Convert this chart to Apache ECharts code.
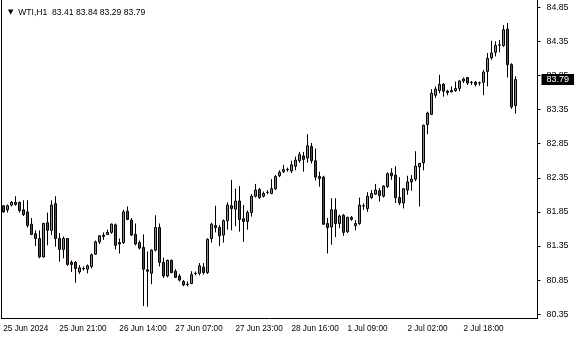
<!DOCTYPE html>
<html><head><meta charset="utf-8">
<script src="https://cdn.jsdelivr.net/npm/echarts@6/dist/echarts.min.js"></script>
<style>html,body{margin:0;padding:0;background:#fff}#c{width:580px;height:340px}</style>
</head><body><div id="c"></div>
<script>
const symbolName = 'WTI';
const timeframe = 'H1';
const opens = [81.94,81.88,81.95,81.99,81.99,81.88,81.85,81.67,81.53,81.46,81.19,81.69,81.58,81.97,81.46,81.30,81.46,81.11,81.11,80.97,81.015,81.01,81.05,81.23,81.41,81.49,81.52,81.55,81.66,81.40,81.40,81.86,81.73,81.52,81.40,81.33,81.00,80.95,81.29,81.62,81.11,80.91,81.14,80.98,80.91,80.83,80.785,80.80,80.945,80.95,81.04,80.96,81.46,81.65,81.62,81.51,81.72,81.94,81.89,82.01,81.75,81.71,81.84,82.08,82.18,82.08,82.135,82.12,82.19,82.38,82.44,82.47,82.45,82.52,82.60,82.67,82.64,82.81,82.60,82.37,82.36,81.68,81.63,81.88,81.68,81.80,81.56,81.77,81.65,81.68,81.935,81.90,82.06,82.11,82.16,82.08,82.22,82.42,82.39,82.06,81.98,82.17,82.29,82.33,82.51,82.57,83.13,83.28,83.56,83.63,83.72,83.62,83.61,83.63,83.66,83.77,83.82,83.745,83.75,83.74,83.75,83.91,84.11,84.19,84.295,84.29,84.53,84.01,83.41];
const closes = [81.85,81.94,81.99,81.96,81.87,81.81,81.65,81.52,81.46,81.19,81.68,81.58,81.95,81.46,81.30,81.46,81.08,81.08,81.02,81.03,81.02,81.06,81.22,81.41,81.50,81.51,81.55,81.67,81.36,81.38,81.85,81.74,81.51,81.38,81.32,81.01,80.98,81.29,81.62,81.11,80.91,81.14,80.96,80.89,80.85,80.78,80.79,80.93,80.95,81.06,80.96,81.45,81.67,81.62,81.50,81.72,81.95,81.90,82.01,81.74,81.71,81.84,82.08,82.17,82.06,82.12,82.14,82.19,82.37,82.43,82.47,82.475,82.54,82.61,82.69,82.62,82.82,82.60,82.36,82.34,81.67,81.62,81.88,81.68,81.79,81.55,81.77,81.74,81.68,81.95,81.94,82.08,82.12,82.17,82.09,82.23,82.41,82.38,82.06,81.98,82.19,82.29,82.33,82.52,82.56,83.12,83.30,83.59,83.65,83.72,83.62,83.60,83.63,83.66,83.77,83.80,83.74,83.75,83.72,83.745,83.90,84.10,84.18,84.29,84.30,84.52,84.01,83.39,83.79];
const lows = [81.84,81.84,81.93,81.94,81.84,81.79,81.62,81.51,81.35,81.17,81.18,81.36,81.51,81.34,81.12,81.17,81.06,80.97,80.81,80.94,80.99,80.95,81.02,81.22,81.38,81.44,81.51,81.53,81.30,81.24,81.38,81.73,81.50,81.36,81.30,80.47,80.46,80.79,81.27,81.05,80.88,80.89,80.95,80.88,80.83,80.76,80.76,80.79,80.92,80.92,80.93,80.94,81.40,81.55,81.35,81.40,81.59,81.58,81.64,81.56,81.41,81.59,81.78,82.06,82.04,82.06,82.11,82.11,82.17,82.36,82.42,82.44,82.42,82.46,82.57,82.44,82.57,82.56,82.31,82.22,81.66,81.24,81.37,81.48,81.61,81.50,81.54,81.72,81.58,81.66,81.88,81.85,82.04,82.10,82.00,82.06,82.20,82.32,81.98,81.95,81.90,82.10,82.16,82.30,81.93,82.46,82.99,83.27,83.52,83.59,83.54,83.56,83.60,83.61,83.62,83.74,83.71,83.71,83.69,83.70,83.56,83.69,84.08,84.13,84.19,84.27,83.82,83.36,83.29];
const highs = [81.95,81.96,82.01,82.08,82.00,82.02,82.02,81.76,81.58,81.58,81.69,81.84,82.02,82.08,81.54,81.49,81.46,81.14,81.13,81.07,81.05,81.08,81.24,81.43,81.51,81.55,81.59,81.68,81.68,81.46,81.88,81.93,81.76,81.68,81.43,81.52,81.27,81.30,81.80,81.68,81.18,81.15,81.15,81.01,80.94,80.85,80.83,80.98,80.975,81.10,81.10,81.46,81.69,81.94,81.66,81.74,81.99,82.32,82.19,82.23,81.95,81.87,82.11,82.26,82.20,82.15,82.17,82.33,82.39,82.46,82.54,82.50,82.60,82.66,82.73,82.73,82.99,82.86,82.78,82.44,82.38,81.76,82.05,82.05,81.81,81.82,81.78,81.79,81.73,82.06,81.975,82.14,82.17,82.26,82.20,82.24,82.43,82.49,82.52,82.36,82.20,82.38,82.39,82.74,82.57,83.13,83.32,83.65,83.69,83.86,83.74,83.64,83.69,83.76,83.78,83.82,83.83,83.77,83.77,83.76,83.93,84.18,84.36,84.35,84.37,84.59,84.62,84.03,83.84];
const timeLabels = ['25 Jun 2024','25 Jun 21:00','26 Jun 14:00','27 Jun 07:00','27 Jun 23:00','28 Jun 16:00','1 Jul 09:00','2 Jul 02:00','2 Jul 18:00'];
const timeLabelIdx = [0,14,29,43,58,72,86,101,115];
const priceTicks = [80.35,80.85,81.35,81.85,82.35,82.85,83.35,83.85,84.35,84.85];
const emptySlotsRight = 5;

const n = opens.length;
const totalSlots = n + emptySlotsRight;
const categories = [];
for (let i = 0; i < totalSlots; i++) categories.push('');
timeLabelIdx.forEach((k, j) => { categories[k] = timeLabels[j]; });
const ohlc = opens.map((o, i) => [o, closes[i], lows[i], highs[i]]);
const last = n - 1;
const fmt = v => v.toFixed(2);
const FONT = "'Liberation Sans',Arial,sans-serif";
const showLab = (idx, val) => val !== '';

const chart = echarts.init(document.getElementById('c'), null, {renderer: 'canvas'});
chart.setOption({
  animation: false,
  backgroundColor: '#ffffff',
  title: {
    left: 3, top: 3,
    text: '{t|▼}  ' + symbolName + ',' + timeframe + '  ' + [opens[last], highs[last], lows[last], closes[last]].map(fmt).join(' '),
    textStyle: {
      fontSize: 8.6, fontWeight: 'normal', color: '#000', fontFamily: FONT,
      rich: { t: { fontSize: 7, color: '#000', fontFamily: 'DejaVu Sans' } }
    }
  },
  grid: { left: 1.3, right: 42.5, top: 0, bottom: 21.5 },
  xAxis: {
    type: 'category', data: categories, boundaryGap: true,
    axisLine: { lineStyle: { color: '#000', width: 1 } },
    axisTick: { interval: showLab, alignWithLabel: true, length: 3, lineStyle: { color: '#000' } },
    axisLabel: { interval: showLab, align: 'left', margin: 6, color: '#000', fontSize: 8.2, fontFamily: FONT },
    splitLine: { show: false }
  },
  yAxis: [{
    type: 'value', position: 'right', min: 80.287, max: 84.957, scale: true,
    axisLine: { show: true, lineStyle: { color: '#000', width: 1 } },
    axisTick: { show: true, length: 3, customValues: priceTicks, lineStyle: { color: '#000' } },
    axisLabel: { customValues: priceTicks, margin: 9, color: '#000', fontSize: 8.8, fontFamily: FONT, formatter: v => v.toFixed(2) },
    splitLine: { show: false }
  }, {
    type: 'value', position: 'left', min: 80.287, max: 84.957,
    axisLine: { show: true, lineStyle: { color: '#000', width: 1 } },
    axisTick: { show: false }, axisLabel: { show: false }, splitLine: { show: false }
  }],
  series: [{
    type: 'candlestick',
    data: ohlc,
    barWidth: 3,
    itemStyle: { color: '#28c828', color0: '#ff0000', borderColor: '#000', borderColor0: '#000', borderWidth: 1 },
    markLine: {
      silent: true, symbol: 'none', animation: false,
      lineStyle: { color: 'transparent', width: 1, type: 'solid' },
      data: [{ yAxis: closes[last] }],
      label: {
        show: true, position: 'end', distance: 4, formatter: () => fmt(closes[last]),
        color: '#fff', backgroundColor: '#000', fontSize: 9, fontFamily: FONT,
        padding: [1, 5, 1, 5], lineHeight: 9
      }
    }
  }]
});
</script></body></html>
